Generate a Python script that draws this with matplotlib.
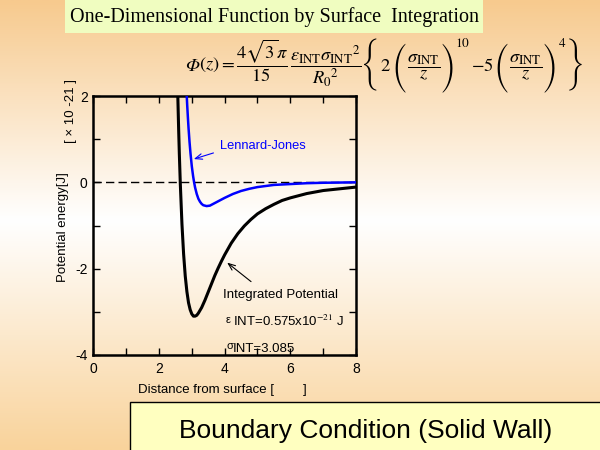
import numpy as np
import matplotlib
matplotlib.use('Agg')
import matplotlib.pyplot as plt
from matplotlib.patches import Rectangle
from matplotlib.colors import LinearSegmentedColormap

# ---- data ----
z_int = [2.57, 2.60, 2.62, 2.65, 2.70, 2.75, 2.80, 2.85, 2.90, 2.95, 3.00, 3.05,
         3.10, 3.15, 3.20, 3.30, 3.40, 3.50, 3.60, 3.70, 3.80, 3.90, 4.00, 4.20,
         4.40, 4.60, 4.80, 5.00, 5.25, 5.50, 5.75, 6.00, 6.50, 7.00, 7.50, 8.00]
phi_int = [2.11, 1.20, 0.66, -0.04, -0.97, -1.66, -2.17, -2.53, -2.79, -2.95, -3.05, -3.10,
           -3.10, -3.08, -3.03, -2.90, -2.73, -2.54, -2.35, -2.16, -1.99, -1.83, -1.68, -1.41,
           -1.19, -1.01, -0.86, -0.73, -0.61, -0.51, -0.42, -0.36, -0.26, -0.19, -0.15, -0.11]

z_lj = [2.84, 2.86, 2.88, 2.90, 2.93, 2.96, 3.00, 3.04, 3.07, 3.10, 3.15, 3.20, 3.25,
        3.30, 3.35, 3.45, 3.55, 3.70, 3.85, 4.00, 4.25, 4.50, 4.75, 5.00, 5.50,
        6.00, 6.50, 7.00, 8.00]
phi_lj = [2.09, 1.78, 1.51, 1.26, 0.94, 0.67, 0.37, 0.14, 0.00, -0.12, -0.27, -0.38, -0.45,
          -0.50, -0.53, -0.55, -0.54, -0.48, -0.42, -0.36, -0.27, -0.20, -0.15, -0.11, -0.06,
          -0.04, -0.02, -0.01, 0.00]

xticks = [0, 2, 4, 6, 8]
xminor = [1, 3, 5, 7]
yticks = [-4, -2, 0, 2]
yminor = [-3, -1, 1]

plt.rcParams['mathtext.fontset'] = 'stix'
plt.rcParams['axes.unicode_minus'] = False
plt.rcParams['font.family'] = ['Liberation Sans', 'DejaVu Sans']

W, H = 600, 450
fig = plt.figure(figsize=(6, 4.5), dpi=100)

def fx(px):
    return px / W

def fy(py):
    return 1 - py / H

# background gradient
bg = fig.add_axes([0, 0, 1, 1], zorder=-10)
cmap = LinearSegmentedColormap.from_list(
    'bg', [(0, '#F7CA8E'), (0.49, '#FFFFFF'), (1, '#F9D39B')])
bg.imshow(np.linspace(0, 1, 256).reshape(-1, 1), aspect='auto', cmap=cmap,
          extent=[0, 1, 0, 1], origin='upper')
bg.set_xlim(0, 1); bg.set_ylim(0, 1)
bg.axis('off')

# title box
fig.patches.append(Rectangle((fx(65), fy(33)), 418/W, 33/H, transform=fig.transFigure,
                             facecolor='#F0FDC0', edgecolor='none', zorder=1))
fig.text(fx(274), fy(17), 'One-Dimensional Function by Surface  Integration',
         family='Liberation Serif', fontsize=14.5, ha='center', va='center', zorder=2)

# equation, composed of pieces laid out left to right without overlap
fs = 13.2
frac = r'$\dfrac{\sigma_{\mathrm{INT}}}{z}$'
pieces = [
    ('\u03a6', 70.5, 'baseline', dict(family='STIXGeneral', style='italic', fontsize=fs)),
    (r'$(z)=\dfrac{4\sqrt{3}\pi}{15}\,'
     r'\dfrac{\varepsilon_{\mathrm{INT}}\sigma_{\mathrm{INT}}{}^{2}}{R_{0}{}^{2}}$',
     70.5, 'baseline', dict(fontsize=fs)),
    ('{', 65, 'center', dict(family='STIXSizeFourSym', fontsize=12.5)),
    (r'$2$', 70.5, 'baseline', dict(fontsize=fs)),
    ('(', 68, 'center', dict(family='STIXSizeThreeSym', fontsize=14.5)),
    (frac, 70.5, 'baseline', dict(fontsize=fs)),
    (')', 68, 'center', dict(family='STIXSizeThreeSym', fontsize=14.5)),
    (r'$10$', 37, 'top', dict(fontsize=9.5)),
    (r'$-5$', 70.5, 'baseline', dict(fontsize=fs)),
    ('(', 68, 'center', dict(family='STIXSizeThreeSym', fontsize=14.5)),
    (frac, 70.5, 'baseline', dict(fontsize=fs)),
    (')', 68, 'center', dict(family='STIXSizeThreeSym', fontsize=14.5)),
    (r'$4$', 37, 'top', dict(fontsize=9.5)),
    ('}', 65, 'center', dict(family='STIXSizeFourSym', fontsize=12.5)),
]
renderer = fig.canvas.get_renderer()
texts, offsets = [], []
cursor = 0.0
for s, py, va, kw in pieces:
    t = fig.text(0, fy(py), s, ha='left', va=va, **kw)
    bb = t.get_window_extent(renderer)
    texts.append(t)
    offsets.append(cursor)
    cursor += bb.width + 0.2
start = 385 - cursor / 2
for t, off in zip(texts, offsets):
    t.set_x(fx(start + off))

# main axes
ax = fig.add_axes([fx(93.3), fy(355), (356-93.3)/W, (355-96)/H])
ax.set_facecolor('none')
ax.axhline(0, color='black', lw=1.0, ls=(0, (6, 3)), zorder=2)
ax.plot(z_int, phi_int, color='black', lw=2.2, zorder=3, solid_joinstyle='round')
ax.plot(z_lj, phi_lj, color='#0000FF', lw=1.8, zorder=4, solid_joinstyle='round')
ax.set_xlim(0, 8)
ax.set_ylim(-4, 2)
ax.set_xticks(xticks)
ax.set_yticks(yticks)
ax.set_xticks(xminor, minor=True)
ax.set_yticks(yminor, minor=True)
ax.tick_params(which='both', direction='in', top=True, right=True, length=5, width=1,
               labelsize=10)
ax.tick_params(axis='x', pad=5)
ax.tick_params(axis='y', pad=4)
for sp in ax.spines.values():
    sp.set_linewidth(1.8)

def px2data(px, py):
    return (px - 93.3) / 32.85, 2 - (py - 96) / 43.2

# annotations
ax.annotate('', xy=(2.98, 0.52), xytext=(3.74, 0.70),
            arrowprops=dict(arrowstyle='->,head_length=0.5,head_width=0.2',
                            color='#0000FF', lw=0.8), zorder=5)
ax.text(3.86, 0.84, 'Lennard-Jones', color='#0000FF', fontsize=9.3, ha='left', va='center')
ax.annotate('', xy=(4.01, -1.82), xytext=(4.87, -2.34),
            arrowprops=dict(arrowstyle='->,head_length=0.5,head_width=0.2',
                            color='black', lw=0.8), zorder=5)
ax.text(3.96, -2.61, 'Integrated Potential', color='black', fontsize=9.5,
        ha='left', va='center')

x, y = px2data(226, 320.5)
ax.text(x, y, '\u03b5', fontsize=8, ha='left', va='center')
x, y = px2data(233, 325.7)
ax.text(x, y, 'INT=0.575x10$^{-21}$ J', fontsize=9.5, ha='left', va='baseline')
x, y = px2data(226.5, 346.5)
ax.text(x, y, '\u03c3', fontsize=8, ha='left', va='center')
x, y = px2data(233, 352.5)
ax.text(x, y, 'INT=3.085', fontsize=9.5, ha='left', va='baseline')

# axis labels
fig.text(fx(63), fy(227), 'Potential energy[J]', rotation=90, fontsize=9.5,
         ha='center', va='center')
fig.text(fx(71), fy(111), '[ \u00d7 10 -21 ]', rotation=90, fontsize=9.5,
         ha='center', va='center')
fig.text(fx(222), fy(390), 'Distance from surface [        ]', fontsize=9.5,
         ha='center', va='center')

# bottom box
fig.patches.append(Rectangle((fx(130), -0.01), 1.0, 0.01 + 48/H, transform=fig.transFigure,
                             facecolor='#FFFFC0', edgecolor='black', lw=1, zorder=1))
fig.text(fx(366), fy(438), 'Boundary Condition (Solid Wall)', fontsize=19,
         ha='center', va='baseline', zorder=2)

fig.savefig('out.png', dpi=100)
